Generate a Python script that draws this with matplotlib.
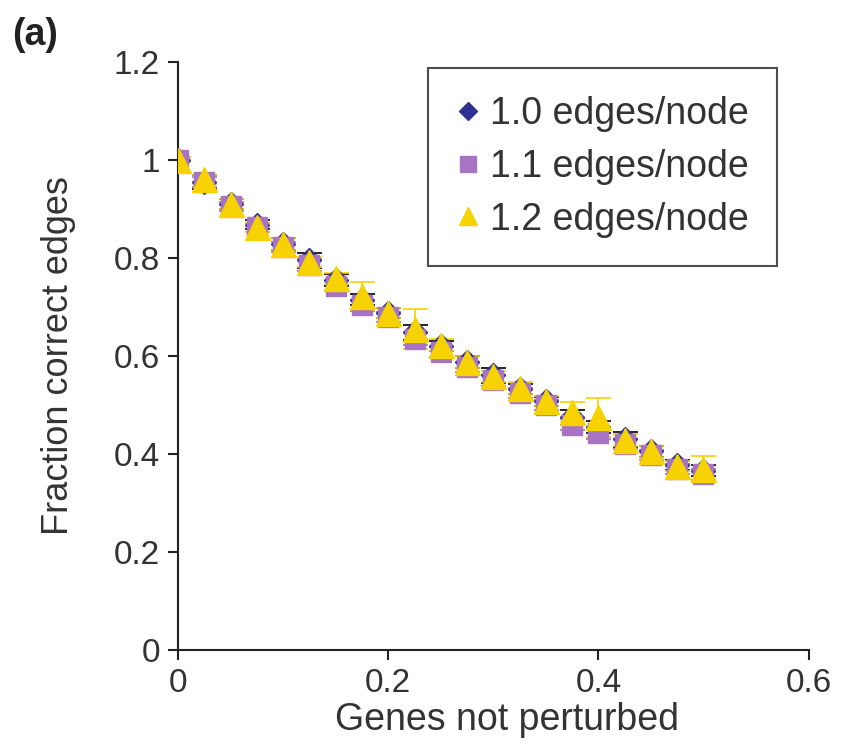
import numpy as np
import matplotlib
matplotlib.use("Agg")
import matplotlib.pyplot as plt

plt.rcParams["font.family"] = ["Liberation Sans", "DejaVu Sans"]

# fraction of genes not perturbed
genes_not_perturbed = [0.0, 0.025, 0.05, 0.075, 0.1, 0.125, 0.15, 0.175, 0.2, 0.225,
                       0.25, 0.275, 0.3, 0.325, 0.35, 0.375, 0.4, 0.425, 0.45, 0.475, 0.5]

frac_10 = [1.0, 0.955, 0.91, 0.868, 0.828, 0.795, 0.755, 0.715, 0.688, 0.648,
           0.62, 0.588, 0.56, 0.533, 0.507, 0.475, 0.455, 0.43, 0.405, 0.378, 0.366]
err_10 = [0.005, 0.015, 0.01, 0.01, 0.012, 0.015, 0.012, 0.012, 0.01, 0.015,
          0.01, 0.012, 0.015, 0.01, 0.01, 0.015, 0.012, 0.015, 0.012, 0.01, 0.012]

frac_11 = [1.0, 0.955, 0.905, 0.862, 0.822, 0.785, 0.742, 0.703, 0.68, 0.635,
           0.608, 0.578, 0.55, 0.525, 0.5, 0.46, 0.443, 0.42, 0.398, 0.37, 0.358]
err_11 = [0.005, 0.01, 0.01, 0.01, 0.01, 0.012, 0.01, 0.012, 0.01, 0.012,
          0.01, 0.01, 0.012, 0.01, 0.01, 0.012, 0.012, 0.01, 0.01, 0.01, 0.012]

frac_12 = [1.0, 0.96, 0.91, 0.862, 0.828, 0.792, 0.758, 0.722, 0.688, 0.655,
           0.622, 0.588, 0.558, 0.535, 0.508, 0.485, 0.475, 0.428, 0.405, 0.375, 0.37]
err_12 = [0.005, 0.01, 0.01, 0.01, 0.012, 0.01, 0.012, 0.028, 0.01, 0.04,
          0.012, 0.012, 0.012, 0.012, 0.01, 0.02, 0.04, 0.012, 0.012, 0.01, 0.025]

NAVY, ORCHID, GOLD = "#2E3192", "#A774C4", "#F5D200"

fig = plt.figure(figsize=(8.44, 7.54), dpi=100)
ax = fig.add_axes([0.211, 0.138, 0.747, 0.78])

series = [
    (frac_10, err_10, "D", 12, NAVY, "1.0 edges/node"),
    (frac_11, err_11, "s", 15, ORCHID, "1.1 edges/node"),
    (frac_12, err_12, "^", 18, GOLD, "1.2 edges/node"),
]
handles = []
for y, e, mk, ms, col, lab in series:
    ax.errorbar(genes_not_perturbed, y, yerr=e, fmt="none", ecolor=col if col != NAVY else "black",
                elinewidth=1.2, capsize=9, capthick=1.2, zorder=2)
    h, = ax.plot(genes_not_perturbed, y, ls="none", marker=mk, ms=ms, mfc=col, mec=col,
                 zorder=3, label=lab)
    handles.append(h)

ax.set_xlim(0, 0.6)
ax.set_ylim(0, 1.2)
ax.set_xticks([0, 0.2, 0.4, 0.6])
ax.set_xticklabels(["0", "0.2", "0.4", "0.6"])
ax.set_yticks([0, 0.2, 0.4, 0.6, 0.8, 1.0, 1.2])
ax.set_yticklabels(["0", "0.2", "0.4", "0.6", "0.8", "1", "1.2"])
for s in ("top", "right"):
    ax.spines[s].set_visible(False)
for s in ("left", "bottom"):
    ax.spines[s].set_linewidth(1.5)
    ax.spines[s].set_color("#222222")
ax.tick_params(direction="out", length=7, width=1.5, color="#222222",
               labelsize=24, labelcolor="#333333", pad=6)
ax.set_xlabel("Genes not perturbed", fontsize=27, color="#333333", labelpad=2)
ax.xaxis.label.set_x(0.522)
ax.set_ylabel("Fraction correct edges", fontsize=26, color="#333333", labelpad=27)

leg_handles = [
    plt.Line2D([0], [0], ls="none", marker="D", ms=9, mfc=NAVY, mec=NAVY),
    plt.Line2D([0], [0], ls="none", marker="s", ms=11, mfc=ORCHID, mec=ORCHID),
    plt.Line2D([0], [0], ls="none", marker="^", ms=13, mfc=GOLD, mec=GOLD),
]
leg = ax.legend(leg_handles, [h.get_label() for h in handles], loc="upper right",
                bbox_to_anchor=(0.95, 0.99), fontsize=27, frameon=True, fancybox=False,
                handlelength=0.6, handletextpad=0.3, borderpad=0.75, labelspacing=0.45,
                borderaxespad=0)
leg.get_frame().set_edgecolor("#222222")
leg.get_frame().set_linewidth(1.5)
for t in leg.get_texts():
    t.set_color("#333333")

fig.text(0.014, 0.94, "(a)", fontsize=27, fontweight="bold", color="#222222")

fig.savefig("out.png", dpi=100)
